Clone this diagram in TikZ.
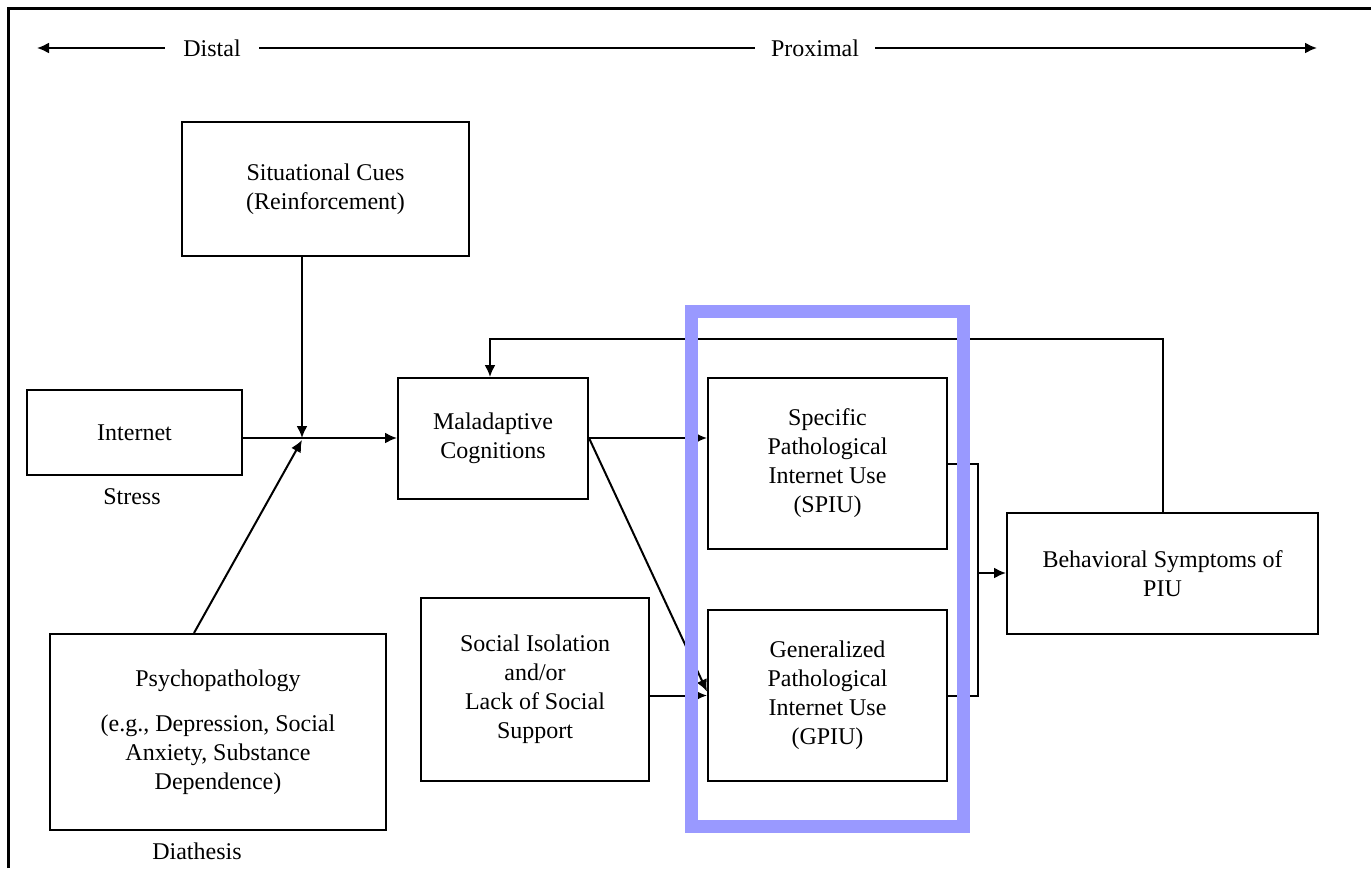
\documentclass[tikz,border=0pt]{standalone}
\usepackage{fontspec}
\setmainfont{Liberation Serif}
\usepackage{xcolor}
\usepackage{tikz}
\usetikzlibrary{arrows.meta}
\usetikzlibrary{calc}
\usetikzlibrary{positioning}
\tikzset{>={Latex[length=6pt,width=5.5pt]}}
\definecolor{focusblue}{RGB}{153,153,255}
\tikzset{box/.style={draw, line width=1pt, rectangle, align=center, inner sep=0pt}}
\tikzset{link/.style={line width=1pt}}

\begin{document}
\begin{tikzpicture}[x=0.5pt, y=-0.5pt, font=\fontsize{12}{14.5}\selectfont]
        \useasboundingbox (0,0) rectangle (1371,868);
        % Frame
        \draw[line width=1.5pt] (8,868) -- (8,8) -- (1371,8);

        % Distal / proximal axis
        \node[inner xsep=9pt] (distal) at (212,48) {Distal};
        \node[inner xsep=8pt] (proximal) at (815,48) {Proximal};
        \coordinate (leftend) at (37,48);
        \coordinate (rightend) at (1317,48);
        \draw[link, ->] (distal) -- (leftend);
        \draw[link] (distal) -- (proximal);
        \draw[link, ->] (proximal) -- (rightend);

        % Nodes
        \node[box, minimum width=143.5pt, minimum height=67pt] (cues) at (325.5,189) {Situational Cues\\(Reinforcement)};
        \node[box, minimum width=107.5pt, minimum height=42.5pt] (internet) at (134.5,432.5) {Internet};
        \node (stress) at (132,497) {Stress};
        \node[box, minimum width=168pt, minimum height=98pt] (psycho) at (218,732) {Psychopathology\\[8pt](e.g., Depression, Social\\Anxiety, Substance\\Dependence)};
        \node (diathesis) at (197,851) {Diathesis};
        \node[box, minimum width=95pt, minimum height=60.5pt] (maladaptive) at (493,438.5) {Maladaptive\\Cognitions};
        \node[box, minimum width=114pt, minimum height=91.5pt] (social) at (535,689.5) {Social Isolation\\and/or\\Lack of Social\\Support};
        \node[box, minimum width=119.5pt, minimum height=85.5pt] (spiu) at (827.5,463.5) {Specific\\Pathological\\Internet Use\\(SPIU)};
        \node[box, minimum width=119.5pt, minimum height=85.5pt] (gpiu) at (827.5,695.5) {Generalized\\Pathological\\Internet Use\\(GPIU)};
        \node[box, minimum width=155.5pt, minimum height=60.5pt] (behav) at (1162.5,573.5) {Behavioral Symptoms of\\PIU};

        % Arrows
        \coordinate (join) at (302,438);
        \draw[link, ->] (cues.south -| join) -- (join);
        \draw[link, ->] (internet.east |- join) -- (maladaptive.west |- join);
        \draw[link, ->] ([xshift=-12pt]psycho.north) -- ([yshift=-1pt]join);
        \draw[link, ->] (maladaptive.east |- join) -- (spiu.west |- join);
        \draw[link, ->] (maladaptive.east |- join) -- ([yshift=2pt]gpiu.west);
        \draw[link, ->] (social.east |- gpiu.west) -- (gpiu.west);

        \coordinate (merge) at (978,573);
        \draw[link] (spiu.east) -- (spiu.east -| merge) -- (gpiu.east -| merge) -- (gpiu.east);
        \draw[link, ->] (merge) -- (behav.west |- merge);

        \coordinate (loop) at (490,339);
        \draw[link, ->] (behav.north) |- (loop) -- (loop |- maladaptive.north);

        % Highlight
        \node[draw=focusblue, line width=6.5pt, minimum width=136pt, minimum height=257.5pt, inner sep=0pt] (focus) at (827.5,569) {};
\end{tikzpicture}
\end{document}
